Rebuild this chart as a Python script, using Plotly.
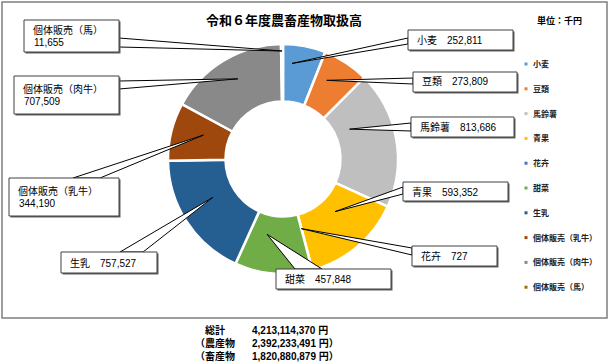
import math
import plotly.graph_objects as go

# ---------------- data ----------------
categories = ["小麦", "豆類", "馬鈴薯", "青果", "花卉", "甜菜", "生乳",
              "個体販売（乳牛）", "個体販売（肉牛）", "個体販売（馬）"]
values = [252811, 273809, 813686, 593352, 727, 457848, 757527, 344190, 707509, 11655]
colors = ["#5B9BD5", "#ED7D31", "#BFBFBF", "#FFC000", "#4472C4", "#70AD47",
          "#255E91", "#9E480E", "#898989", "#997300"]
title_text = "令和６年度農畜産物取扱高"
unit_text = "単位：千円"
total_labels = ["総計", "（農産物", "（畜産物"]
total_values = ["4,213,114,370 円", "2,392,233,491 円）", "1,820,880,879 円）"]

# ---------------- layout helpers (pixels -> paper) ----------------
W, H = 610, 364
def px(x): return x / W
def py(y): return 1 - y / H

CX, CY, R = 283, 159, 115
HOLE = 0.5
FONT = "Liberation Sans, Arial, Noto Sans CJK JP, sans-serif"

# callout styling: box (x0,y0,x1,y1), wedge base points on the box edge,
# and where inside the slice the pointer lands (fraction of slice angle, radius px)
callouts = [
    dict(box=(408, 30, 513, 50), base=((408, 38), (408, 44)), frac=0.25, r=96),
    dict(box=(413, 72, 517, 92), base=((413, 78), (413, 84)), frac=0.32, r=90),
    dict(box=(411, 117, 514, 137), base=((411, 123), (411, 131)), frac=0.30, r=73),
    dict(box=(403, 182, 508, 201), base=((403, 187), (403, 194)), frac=0.41, r=74),
    dict(box=(412, 246, 497, 266), base=((412, 248), (412, 255)), frac=0.5, r=72),
    dict(box=(276, 269, 391, 289), base=((295, 269), (322, 269)), frac=0.68, r=77),
    dict(box=(61, 252, 157, 273), base=((120, 252), (143, 252)), frac=0.57, r=80),
    dict(box=(9, 178, 119, 216), base=((73, 178), (100, 178)), frac=0.60, r=83),
    dict(box=(14, 76, 119, 114), base=((119, 81), (119, 89)), frac=0.53, r=92),
    dict(box=(24, 20, 119, 52), base=((119, 38), (119, 47)), frac=0.5, r=108),
]

fig = go.Figure()
fig.add_trace(go.Pie(
    labels=categories, values=values, sort=False, direction="clockwise",
    rotation=0, hole=HOLE, textinfo="none", showlegend=False,
    marker=dict(colors=colors, line=dict(color="white", width=2.5)),
    domain=dict(x=[px(CX - R), px(CX + R)], y=[py(CY + R), py(CY - R)]),
))

shapes = []
annotations = []

def add_text(x, y, text, size, anchor="left", color="#000000"):
    annotations.append(dict(xref="paper", yref="paper", x=px(x), y=py(y),
                            xanchor=anchor, yanchor="middle", align="left",
                            text=text, showarrow=False,
                            font=dict(family=FONT, size=size, color=color)))

# outer chart border
shapes.append(dict(type="rect", xref="paper", yref="paper",
                   x0=px(2), x1=px(607), y0=py(318), y1=py(2),
                   line=dict(color="#7F7F7F", width=1.5), fillcolor="rgba(0,0,0,0)"))

total = sum(values)
cum = 0
for i, (name, v) in enumerate(zip(categories, values)):
    c = callouts[i]
    ang = (cum + c["frac"] * v) / total * 2 * math.pi
    cum += v
    tx = CX + c["r"] * math.sin(ang)
    ty = CY - c["r"] * math.cos(ang)
    (bx1, by1), (bx2, by2) = c["base"]
    path = (f"M {px(bx1)} {py(by1)} L {px(tx)} {py(ty)} "
            f"L {px(bx2)} {py(by2)} Z")
    shapes.append(dict(type="path", xref="paper", yref="paper", path=path,
                       fillcolor="white", line=dict(color="#000000", width=1)))
    x0, y0, x1, y1 = c["box"]
    shapes.append(dict(type="rect", xref="paper", yref="paper",
                       x0=px(x0 + 1.5), x1=px(x1 + 1.5), y0=py(y1 + 1.5), y1=py(y0 + 1.5),
                       fillcolor="#606060", line=dict(width=0)))
    shapes.append(dict(type="rect", xref="paper", yref="paper",
                       x0=px(x0), x1=px(x1), y0=py(y1), y1=py(y0),
                       fillcolor="white", line=dict(color="#404040", width=1)))
    if name.startswith("個体販売"):
        ym = (y0 + y1) / 2
        add_text(x0 + 7, ym - 6, name, 10)
        add_text(x0 + 8, ym + 6, f"{v:,}", 10)
    else:
        add_text(x0 + 7, (y0 + y1) / 2, f"{name}\u3000{v:,}", 10)

# legend (manual, evenly spaced like the original)
LEG_X, LEG_Y0, LEG_DY = 526, 64, 24.8
for i, (name, col) in enumerate(zip(categories, colors)):
    y = LEG_Y0 + i * LEG_DY
    shapes.append(dict(type="rect", xref="paper", yref="paper",
                       x0=px(LEG_X - 1.5), x1=px(LEG_X + 1.5),
                       y0=py(y + 1.5), y1=py(y - 1.5),
                       fillcolor=col, line=dict(width=0)))
    add_text(LEG_X + 4.5, y, f"<b>{name}</b>", 8, color="#222222")

# title & unit
add_text(284, 20, f"<b>{title_text}</b>", 13, anchor="center")
add_text(559, 20, f"<b>{unit_text}</b>", 9, anchor="center")

# totals block under the chart
for i, (lab, val) in enumerate(zip(total_labels, total_values)):
    y = 330 + i * 13
    add_text(215, y, f"<b>{lab}</b>", 10, anchor="center")
    add_text(250, y, f"<b>{val}</b>", 10)

fig.update_layout(
    width=W, height=H, margin=dict(l=0, r=0, t=0, b=0),
    paper_bgcolor="white", plot_bgcolor="white",
    shapes=shapes, annotations=annotations,
    font=dict(family=FONT),
)
fig.write_html("out.html")
